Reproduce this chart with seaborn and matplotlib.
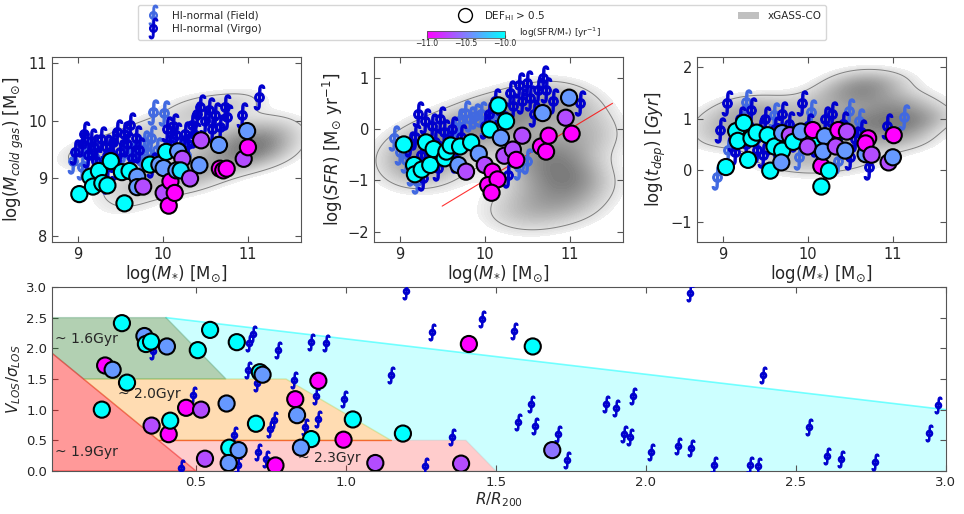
import matplotlib
matplotlib.use("Agg")
import matplotlib.pyplot as plt
import matplotlib.colors as mcolors
from matplotlib.cm import ScalarMappable
from matplotlib.lines import Line2D
from matplotlib.patches import Patch
import pandas as pd
import seaborn as sns

# ---------------- data ----------------
# HI-deficient galaxies (circles), coloured by log(SFR/M*)
p1_mstar = [9.02, 9.15, 9.18, 9.25, 9.29, 9.35, 9.39, 9.52, 9.55, 9.61, 9.70, 9.70, 9.77, 9.85, 9.96, 10.01,
            10.04, 10.01, 10.09, 10.07, 10.14, 10.18, 10.23, 10.16, 10.21, 10.32, 10.43, 10.45, 10.66, 10.67,
            10.71, 10.75, 10.95, 11.00, 10.99]
p1_mgas = [8.73, 9.03, 8.86, 9.13, 8.92, 8.88, 9.30, 9.11, 8.57, 9.13, 9.03, 8.85, 8.86, 9.24, 9.24, 9.18,
           9.46, 8.75, 8.95, 8.53, 8.75, 9.47, 9.34, 9.14, 9.14, 9.00, 9.23, 9.66, 9.58, 9.17,
           9.14, 9.17, 9.34, 9.54, 9.82]
p1_ssfr = [-9.9, -9.9, -9.9, -9.9, -9.9, -9.9, -9.9, -9.9, -9.9, -9.9, -10.4, -10.4, -10.7, -9.9, -10.4, -10.4,
           -9.9, -10.7, -11.0, -11.0, -11.0, -10.4, -10.7, -10.4, -10.1, -10.7, -10.4, -10.7, -10.4, -11.0,
           -11.0, -11.0, -10.7, -11.0, -10.4]

p2_mstar = [9.05, 9.17, 9.18, 9.26, 9.31, 9.36, 9.40, 9.53, 9.55, 9.60, 9.71, 9.84, 9.69, 9.78, 9.93, 10.00,
            10.06, 10.16, 10.25, 10.19, 10.09, 10.04, 10.15, 10.08, 10.23, 10.33, 10.37, 10.44, 10.66, 10.72,
            10.75, 10.68, 10.95, 10.99, 11.02]
p2_sfr = [-0.30, -0.70, -0.88, -0.79, -0.26, -0.70, -0.39, -0.57, -0.44, -0.32, -0.34, -0.26, -0.70, -0.83,
          -0.48, -0.70, -0.01, 0.46, 0.15, -0.17, -0.83, -1.09, -0.98, -1.24, -0.52, -0.40, -0.60, -0.13,
          -0.34, -0.44, -0.13, 0.31, 0.22, 0.61, -0.09]
p2_ssfr = [-9.9, -9.9, -9.9, -9.9, -9.9, -9.9, -9.9, -9.9, -9.9, -9.9, -10.0, -10.0, -10.4, -10.7, -10.4, -10.7,
           -10.0, -9.9, -9.9, -10.4, -11.0, -11.0, -11.0, -11.0, -10.7, -10.7, -11.0, -10.7, -11.0, -11.0,
           -11.0, -10.4, -10.7, -10.4, -11.0]

p3_mstar = [9.04, 9.16, 9.18, 9.25, 9.30, 9.34, 9.40, 9.53, 9.56, 9.61, 9.70, 9.69, 9.70, 9.79, 9.83, 9.92,
            10.06, 10.06, 10.00, 10.16, 10.16, 10.20, 10.18, 10.25, 10.33, 10.36, 10.46, 10.44, 10.68, 10.71,
            10.68, 10.75, 10.95, 11.00, 11.01]
p3_tdep = [0.06, 0.76, 0.57, 0.92, 0.20, 0.62, 0.73, 0.68, -0.01, 0.46, 0.38, 0.15, 0.72, 0.68, 0.55, 0.75,
           0.55, 0.78, 0.46, 0.08, -0.32, 0.66, 0.36, -0.01, 0.46, 0.78, 0.75, 0.38, 0.31, 0.62,
           0.52, 0.30, 0.15, 0.25, 0.68]
p3_ssfr = [-9.9, -9.9, -9.9, -9.9, -9.9, -9.9, -9.9, -9.9, -9.9, -9.9, -10.0, -10.4, -10.4, -10.7, -10.0, -10.4,
           -10.0, -11.0, -10.7, -11.0, -9.9, -10.4, -10.4, -10.0, -10.7, -11.0, -10.7, -10.4, -10.4, -11.0,
           -11.0, -10.7, -10.7, -10.4, -11.0]

# HI-normal galaxies (Virgo / field), top panels
virgo1_mstar = [8.97, 9.05, 9.07, 9.12, 9.16, 9.19, 9.22, 9.27, 9.30, 9.33, 9.38, 9.42, 9.46, 9.50, 9.54, 9.58,
                9.62, 9.64, 9.68, 9.72, 9.87, 10.05, 10.09, 10.16, 10.20, 10.26, 10.30, 10.34, 10.40, 10.44,
                10.50, 10.54, 10.58, 10.61, 10.67, 10.73, 10.75, 10.93, 11.13, 9.25, 9.45, 9.35, 10.12, 10.38]
virgo1_mgas = [9.46, 9.60, 9.77, 9.40, 9.65, 9.54, 9.30, 9.69, 9.25, 9.55, 9.46, 9.63, 9.80, 9.46, 9.77, 9.60,
               9.92, 9.35, 9.70, 9.50, 9.23, 9.86, 9.60, 9.75, 9.50, 9.77, 9.60, 9.92, 10.12, 10.24,
               10.00, 10.18, 9.85, 10.09, 9.89, 10.24, 10.06, 10.09, 10.41, 9.10, 9.20, 8.95, 9.90, 9.75]
field1_mstar = [8.95, 9.05, 9.12, 9.20, 9.30, 9.62, 9.68, 9.74, 9.78, 9.82, 9.86, 9.89, 9.93, 10.01, 10.06,
                10.12, 10.22, 10.27, 9.55, 9.98]
field1_mgas = [9.30, 9.20, 9.45, 9.35, 9.20, 9.40, 9.55, 9.30, 9.62, 9.45, 9.70, 10.15, 9.50, 10.13, 9.60,
               9.70, 9.55, 9.40, 9.50, 9.35]

virgo2_mstar = [9.12, 9.18, 9.22, 9.25, 9.30, 9.33, 9.38, 9.42, 9.48, 9.52, 9.56, 9.62, 9.66, 9.72, 10.05,
                10.12, 10.18, 10.22, 10.30, 10.33, 10.40, 10.44, 10.50, 10.53, 10.58, 10.62, 10.68, 10.72,
                10.80, 11.12, 10.27, 9.28, 9.45, 10.00]
virgo2_sfr = [-0.30, -0.15, 0.30, -0.50, 0.15, -0.60, 0.05, -0.25, 0.20, -0.05, -0.35, 0.00, -0.60, -0.15,
              0.30, 0.55, 0.35, 0.10, 0.70, 0.45, 0.85, 0.55, 0.90, 0.60, 0.30, 0.75, 1.00, 0.75,
              0.55, 0.50, -0.89, -0.95, -0.75, 0.05]
field2_mstar = [8.93, 9.00, 9.08, 9.15, 9.20, 9.70, 9.77, 9.83, 9.89, 9.95, 10.00, 10.40, 10.50, 9.60, 10.10]
field2_sfr = [-0.18, -0.45, -0.60, -0.85, -1.02, 0.15, 0.32, 0.20, 0.25, 0.30, 0.10, -0.73, -0.63, -0.10, 0.20]

virgo3_mstar = [8.97, 9.05, 9.12, 9.20, 9.27, 9.34, 9.40, 9.44, 9.50, 9.56, 9.62, 9.70, 9.78, 9.85, 9.93,
                10.00, 10.10, 10.20, 10.28, 10.35, 10.42, 10.55, 10.62, 10.72, 10.93, 9.15, 9.30, 9.48,
                9.65, 10.15, 10.50]
virgo3_tdep = [0.78, 1.30, 0.60, 1.00, 0.50, 1.17, 0.40, 0.78, 1.00, 0.55, 0.80, 1.10, 0.90, 0.60, 1.30,
               0.85, 0.50, 1.00, 1.10, 0.65, 0.90, 0.60, 0.75, 0.07, 0.85, 0.35, 0.70, 0.30,
               0.30, 0.20, 0.25]
field3_mstar = [8.94, 9.07, 9.28, 9.61, 9.90, 10.04, 10.35, 10.49, 11.13, 9.20, 9.75, 10.60]
field3_tdep = [-0.13, 0.39, 1.33, 1.07, 0.26, 1.14, 0.17, 1.16, 1.04, 0.90, 0.70, 0.95]

# xGASS-CO comparison sample (drawn as a density)
xg1_mstar = [9.10, 9.25, 9.40, 9.50, 9.60, 9.70, 9.80, 9.90, 10.00, 10.10, 10.20, 10.25, 10.30, 10.40, 10.45,
             10.50, 10.60, 10.65, 10.70, 10.80, 10.85, 10.90, 10.95, 11.00, 11.05, 11.10, 11.15, 11.20, 11.30,
             11.25, 10.30, 9.70, 9.60, 10.90, 11.35]
xg1_mgas = [9.40, 9.55, 9.35, 8.80, 8.55, 9.00, 9.60, 8.90, 9.90, 9.20, 9.00, 9.60, 8.90, 9.20, 10.10,
            9.40, 9.10, 9.70, 10.25, 9.30, 9.60, 9.90, 9.45, 9.60, 9.30, 9.75, 9.50, 9.60, 9.40,
            9.90, 10.25, 9.80, 9.40, 10.30, 9.70]
xg2_mstar = [9.05, 9.20, 9.35, 9.50, 9.60, 9.75, 9.90, 10.05, 10.20, 10.35, 10.50, 10.70, 10.90, 11.10, 10.60,
             10.80, 11.00, 11.20, 10.70, 10.90, 11.10, 10.50, 10.80, 11.05, 10.25, 10.60, 11.20, 9.10, 9.40,
             11.25, 10.40]
xg2_sfr = [-0.60, -0.40, -0.20, -0.50, 0.00, -0.20, 0.10, 0.20, 0.30, 0.20, 0.45, 0.55, 0.60, 0.40, -0.30,
           -0.40, -0.60, -0.20, -0.80, -1.00, -0.90, -1.20, -1.40, -1.50, -1.65, -1.70, -1.10, -0.90, -0.80,
           0.00, -0.60]
xg3_mstar = [8.90, 9.10, 9.20, 9.40, 9.50, 9.60, 9.80, 9.90, 10.00, 10.10, 10.20, 10.30, 10.40, 10.50, 10.60,
             10.70, 10.80, 10.90, 11.00, 11.10, 11.20, 11.30, 10.60, 10.35, 10.85, 11.00, 9.30, 9.70,
             10.55, 10.90, 10.10, 10.60, 9.00, 11.40, 11.20]
xg3_tdep = [0.95, 0.75, 1.15, 0.90, 0.45, 1.20, 0.80, 0.30, 1.10, 0.70, 1.45, 1.00, 0.40, 1.35, 0.90,
            1.55, 1.00, 0.60, 1.20, 0.90, 1.30, 1.00, 1.65, 0.80, 1.35, 0.75, 1.30, 0.20,
            1.80, 1.70, 0.05, 0.15, 0.60, 1.00, 0.55]

# bottom panel: phase-space
circ_r = [0.253, 0.328, 0.333, 0.350, 0.403, 0.506, 0.547, 0.636, 0.197, 0.222, 0.270, 0.186, 0.713, 0.722,
          0.908, 0.352, 0.409, 0.414, 0.467, 0.517, 0.602, 0.700, 0.831, 0.837, 0.884, 0.850, 0.992, 1.023,
          1.190, 0.530, 0.611, 0.642, 0.609, 0.765, 1.098, 1.384, 1.410, 1.623, 1.688]
circ_v = [2.41, 2.20, 2.07, 2.11, 2.03, 1.97, 2.30, 2.10, 1.72, 1.65, 1.44, 1.00, 1.61, 1.57,
          1.47, 0.74, 0.60, 0.82, 1.03, 1.00, 1.10, 0.77, 1.17, 0.91, 0.52, 0.38, 0.51, 0.84,
          0.61, 0.20, 0.38, 0.34, 0.13, 0.09, 0.13, 0.12, 2.07, 2.03, 0.34]
circ_ssfr = [-9.9, -10.4, -9.9, -9.9, -10.4, -9.9, -9.9, -9.9, -11.0, -10.4, -9.9, -9.9, -9.9, -10.4,
             -11.0, -10.7, -11.0, -9.9, -11.0, -10.7, -10.4, -9.9, -11.0, -10.4, -9.9, -10.4, -11.0, -9.9,
             -10.0, -10.7, -9.9, -10.4, -10.4, -11.0, -10.7, -10.7, -11.0, -9.9, -10.55]
norm_r = [1.199, 1.453, 1.287, 0.689, 0.678, 0.773, 0.884, 0.934, 0.358, 0.672, 0.704, 0.826, 1.151, 0.489,
          0.900, 0.995, 0.906, 0.761, 0.747, 0.862, 0.628, 1.353, 0.706, 0.734, 0.641, 0.450, 1.262,
          2.148, 1.560, 2.391, 2.974, 1.618, 1.868, 1.901, 1.957, 1.573, 1.629, 1.707, 1.927, 1.946,
          1.737, 2.018, 2.107, 2.152, 2.227, 2.346, 2.374, 2.543, 2.604, 2.650, 2.763, 2.946]
norm_v = [2.94, 2.48, 2.26, 2.24, 2.08, 1.97, 2.11, 2.08, 1.95, 1.65, 1.43, 1.48, 1.56, 1.24,
          1.22, 1.18, 0.84, 0.83, 0.69, 0.72, 0.58, 0.55, 0.31, 0.20, 0.09, 0.05, 0.08,
          2.90, 2.28, 1.57, 1.08, 1.09, 1.09, 1.02, 1.22, 0.80, 0.74, 0.60, 0.61, 0.56,
          0.18, 0.31, 0.40, 0.37, 0.10, 0.09, 0.08, 0.72, 0.25, 0.20, 0.15, 0.62]

# infall-time zones (boundaries)
zone_cyan = ([0.4, 3.0, 3.0, 1.5, 1.4, 1.15, 0.8, 0.6], [2.5, 1.0, 0.0, 0.0, 0.5, 0.5, 1.5, 1.5])
zone_green = ([0.0, 0.4, 0.6, 0.125, 0.0], [2.5, 2.5, 1.5, 1.5, 2.0])
zone_orange = ([0.125, 0.8, 1.15, 0.375], [1.5, 1.5, 0.5, 0.5])
zone_pink = ([0.375, 1.4, 1.5, 0.5], [0.5, 0.5, 0.0, 0.0])
zone_red = ([0.0, 0.5, 0.0], [2.0, 0.0, 0.0])
zone_labels = ["~ 1.6Gyr", "~ 2.0Gyr", "~ 1.9Gyr", "~ 2.3Gyr"]
zone_label_x = [0.03, 0.24, 0.03, 0.84]
zone_label_y = [2.09, 1.19, 0.25, 0.15]

# ---------------- style ----------------
sns.set_style("ticks")
plt.rcParams["font.family"] = ["DejaVu Sans"]
plt.rcParams["mathtext.fontset"] = "dejavusans"
plt.rcParams["xtick.direction"] = "in"
plt.rcParams["ytick.direction"] = "in"
plt.rcParams["xtick.top"] = True
plt.rcParams["ytick.right"] = True
plt.rcParams["axes.edgecolor"] = "#555555"

FIELD = "royalblue"
VIRGO = "mediumblue"
SYM = r"$\oint$"
cmap = plt.get_cmap("cool_r")
norm = mcolors.Normalize(vmin=-11, vmax=-10)
grey = sns.light_palette("#7a7a7a", as_cmap=True)

fig = plt.figure(figsize=(9.64, 5.14), dpi=100)
ax1 = fig.add_axes([0.054, 0.529, 0.258, 0.36])
ax2 = fig.add_axes([0.388, 0.529, 0.258, 0.36])
ax3 = fig.add_axes([0.723, 0.529, 0.258, 0.36])
ax4 = fig.add_axes([0.054, 0.0837, 0.927, 0.358])

top = [
    (ax1, xg1_mstar, xg1_mgas, field1_mstar, field1_mgas, virgo1_mstar, virgo1_mgas, p1_mstar, p1_mgas, p1_ssfr,
     (7.9, 11.1), [8, 9, 10, 11], r"log($M_{cold\ gas}$) [M$_{\odot}$]"),
    (ax2, xg2_mstar, xg2_sfr, field2_mstar, field2_sfr, virgo2_mstar, virgo2_sfr, p2_mstar, p2_sfr, p2_ssfr,
     (-2.2, 1.4), [-2, -1, 0, 1], r"log($SFR$) [M$_{\odot}$ yr$^{-1}$]"),
    (ax3, xg3_mstar, xg3_tdep, field3_mstar, field3_tdep, virgo3_mstar, virgo3_tdep, p3_mstar, p3_tdep, p3_ssfr,
     (-1.4, 2.2), [-1, 0, 1, 2], r"log($t_{dep}$) [$Gyr$]"),
]
for ax, gx, gy, fx, fy, vx, vy, cx, cy, cs, ylim, yt, ylab in top:
    sns.kdeplot(x=gx, y=gy, fill=True, levels=60, thresh=0.07, cmap=grey, bw_adjust=0.8, ax=ax, zorder=0)
    sns.kdeplot(x=gx, y=gy, levels=[0.14], color="gray", linewidths=0.7, bw_adjust=0.8, ax=ax, zorder=1)
    sns.scatterplot(x=fx, y=fy, marker=SYM, s=330, color=FIELD, edgecolor=FIELD, linewidth=0.9, ax=ax, zorder=2)
    sns.scatterplot(x=vx, y=vy, marker=SYM, s=330, color=VIRGO, edgecolor=VIRGO, linewidth=0.9, ax=ax, zorder=3)
    df = pd.DataFrame({"x": cx, "y": cy, "ssfr": cs})
    sns.scatterplot(data=df, x="x", y="y", hue="ssfr", palette="cool_r", hue_norm=norm, s=135,
                    edgecolor="black", linewidth=1.5, legend=False, ax=ax, zorder=4)
    ax.set_xlim(8.7, 11.62)
    ax.set_ylim(*ylim)
    ax.set_xticks([9, 10, 11])
    ax.set_yticks(yt)
    ax.set_xlabel(r"log($M_{*}$) [M$_{\odot}$]", fontsize=12, labelpad=1)
    ax.set_ylabel(ylab, fontsize=12, labelpad=2)
    ax.tick_params(labelsize=10.5, length=4, color="#555555")

# sSFR = -11 reference line in the SFR panel
line_mstar = [9.5, 11.5]
ax2.plot(line_mstar, [m - 11.0 for m in line_mstar], color="red", lw=0.8, alpha=0.8, zorder=1.5)

# ---------------- bottom panel ----------------
ax4.fill(*zone_cyan, facecolor="cyan", alpha=0.2, edgecolor="none", zorder=0)
ax4.plot([0.4, 3.0], [2.5, 1.0], color="cyan", alpha=0.5, lw=1.2, zorder=0.5)
ax4.fill(*zone_green, facecolor="darkgreen", alpha=0.3, edgecolor="seagreen", lw=1.0, zorder=1)
ax4.fill(*zone_orange, facecolor="darkorange", alpha=0.3, edgecolor="yellowgreen", lw=1.0, zorder=1)
ax4.plot([0.375, 1.15], [0.5, 0.5], color="orangered", alpha=0.7, lw=1.0, zorder=1.2)
ax4.fill(*zone_pink, facecolor="red", alpha=0.2, edgecolor="darkgray", lw=1.0, zorder=1)
ax4.fill(*zone_red, facecolor="red", alpha=0.4, edgecolor="red", lw=1.0, zorder=1.1)
for lab, lx, ly in zip(zone_labels, zone_label_x, zone_label_y):
    ax4.text(lx, ly, lab, fontsize=10, zorder=2)

sns.scatterplot(x=norm_r, y=norm_v, marker=SYM, s=150, color=VIRGO, edgecolor=VIRGO, linewidth=0.8,
                ax=ax4, zorder=3)
dfb = pd.DataFrame({"r": circ_r, "v": circ_v, "ssfr": circ_ssfr})
sns.scatterplot(data=dfb, x="r", y="v", hue="ssfr", palette="cool_r", hue_norm=norm, s=135,
                edgecolor="black", linewidth=1.5, legend=False, ax=ax4, zorder=4)
ax4.set_xlim(0.02, 3.0)
ax4.set_ylim(0, 3.0)
ax4.set_xticks([0.5, 1.0, 1.5, 2.0, 2.5, 3.0])
ax4.set_yticks([0.0, 0.5, 1.0, 1.5, 2.0, 2.5, 3.0])
ax4.set_xticklabels(["0.5", "1.0", "1.5", "2.0", "2.5", "3.0"])
ax4.set_yticklabels(["0.0", "0.5", "1.0", "1.5", "2.0", "2.5", "3.0"])
ax4.set_xlabel(r"$R/R_{200}$", fontsize=11, labelpad=1)
ax4.set_ylabel(r"$V_{LOS}/\sigma_{LOS}$", fontsize=11, labelpad=2)
ax4.tick_params(labelsize=9.5, length=4, color="#555555")

# ---------------- legend ----------------
blank = Line2D([], [], linestyle="none")
handles = [
    Line2D([], [], marker=SYM, color=FIELD, linestyle="none", markersize=15, markeredgewidth=0.8),
    Line2D([], [], marker=SYM, color=VIRGO, linestyle="none", markersize=15, markeredgewidth=0.8),
    Line2D([], [], marker="o", markerfacecolor="white", markeredgecolor="black", linestyle="none",
           markersize=10, markeredgewidth=1.0),
    blank,
    Patch(facecolor="silver", edgecolor="none"),
    blank,
]
labels = ["HI-normal (Field)", "HI-normal (Virgo)", r"DEF$_{\rm HI}$ > 0.5", "", "xGASS-CO", ""]
fig.legend(handles, labels, loc="lower left", bbox_to_anchor=(0.138, 0.912, 0.724, 0.08), mode="expand",
           ncol=3, fontsize=7.5, frameon=True, borderpad=0.4, labelspacing=0.3, handletextpad=0.8)

cax = fig.add_axes([0.443, 0.926, 0.081, 0.0136])
cax.set_zorder(20)
cb = fig.colorbar(ScalarMappable(norm=norm, cmap=cmap), cax=cax, orientation="horizontal",
                  ticks=[-11.0, -10.5, -10.0])
cb.ax.set_xticklabels(["\u221211.0", "\u221210.5", "\u221210.0"])
cb.ax.tick_params(labelsize=5.5, length=2, pad=1, direction="in", top=False)
cb.outline.set_linewidth(0.6)
fig.text(0.538, 0.929, r"log(SFR/M$_{*}$) [yr$^{-1}$]", fontsize=6.5, zorder=20)

fig.savefig("out.png", dpi=100)
